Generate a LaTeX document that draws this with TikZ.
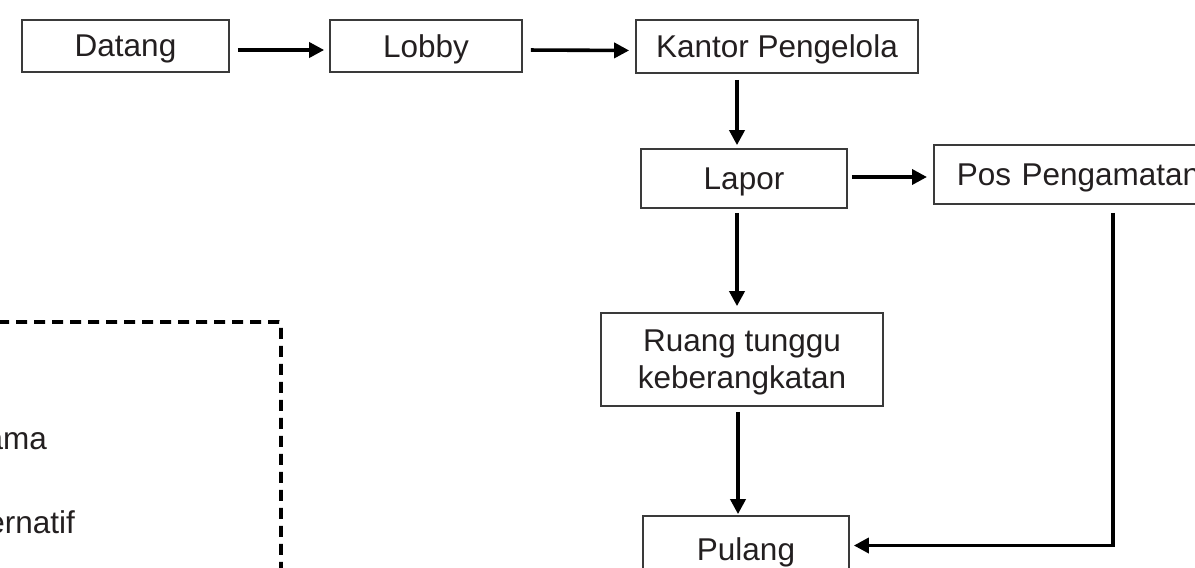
\documentclass[tikz,border=0pt]{standalone}
\usepackage{fontspec}
\setmainfont{Liberation Sans}
\usetikzlibrary{arrows.meta}
\definecolor{ink}{HTML}{231F20}
\definecolor{frame}{HTML}{3A3A3A}
\tikzset{
  stepbox/.style={draw=frame, line width=1.7pt, rectangle, inner sep=0pt,
    text=ink, align=center, text depth=0pt, font=\fontsize{31.5}{37}\selectfont},
  flow/.style={line width=3.6pt, -{Triangle[length=15pt,width=15pt]}},
  legendbox/.style={line width=3.6pt, dash pattern=on 11pt off 7pt},
  legendtext/.style={text=ink, inner sep=0pt, font=\fontsize{31.5}{37}\selectfont}
}
\begin{document}
\begin{tikzpicture}[x=1pt,y=-1pt]
\useasboundingbox (0,0) rectangle (1195,568);
\clip (0,0) rectangle (1195,568);

% process boxes
\node[stepbox, minimum width=207pt, minimum height=52pt] (datang) at (125.5,46) {Datang};
\node[stepbox, minimum width=192pt, minimum height=52pt] (lobby) at (426,46) {Lobby};
\node[stepbox, minimum width=282pt, minimum height=53pt] (kantor) at (777,46.5) {Kantor Pengelola};
\node[stepbox, minimum width=206pt, minimum height=59pt] (lapor) at (744,178.5) {Lapor};
\node[stepbox, anchor=west, minimum height=59pt, text width=262pt, align=left,
      inner xsep=23pt] (pos) at (933,174.5) {Pos Pengamatan};
\node[stepbox, minimum width=282pt, minimum height=93pt] (ruang) at (742,359.5) {Ruang tunggu\\keberangkatan};
\node[stepbox, minimum width=206pt, minimum height=66pt] (pulang) at (746,549) {Pulang};

% vertical guides for the main column and the return line
\coordinate (col) at (737,0);
\coordinate (ret) at (1113,0);

% connectors
\draw[flow, shorten <=8pt, shorten >=5pt] ([yshift=-4pt]datang.east) -- ([yshift=-4pt]lobby.west);
\draw[flow, shorten <=8pt, shorten >=6pt] ([yshift=-4pt]lobby.east) -- ([yshift=-4pt]kantor.west);
\draw[flow, shorten <=6pt, shorten >=3pt] (col |- kantor.south) -- (col |- lapor.north);
\draw[flow, shorten <=4pt, shorten >=6pt] ([yshift=1.5pt]lapor.east) -- ([yshift=1.5pt]lapor.east -| pos.west);
\draw[flow, shorten <=4pt, shorten >=6pt] (col |- lapor.south) -- (col |- ruang.north);
\draw[flow, shorten <=5pt, shorten >=1pt] ([xshift=1pt]col |- ruang.south) -- ([xshift=1pt]col |- pulang.north);
\draw[flow, shorten <=8pt, shorten >=4pt] (ret |- pos.south) -- ([yshift=3.5pt]ret |- pulang.east) -- ([yshift=3.5pt]pulang.east);

% legend frame and entries
\draw[legendbox] (-20,322) -- (279,322) to[out=0,in=90] (281,324) -- (281,600);
\node[legendtext, anchor=base east] (lg1) at (47,449) {ama};
\node[legendtext, anchor=base east] (lg2) at (75,533) {ernatif};
\end{tikzpicture}
\end{document}
